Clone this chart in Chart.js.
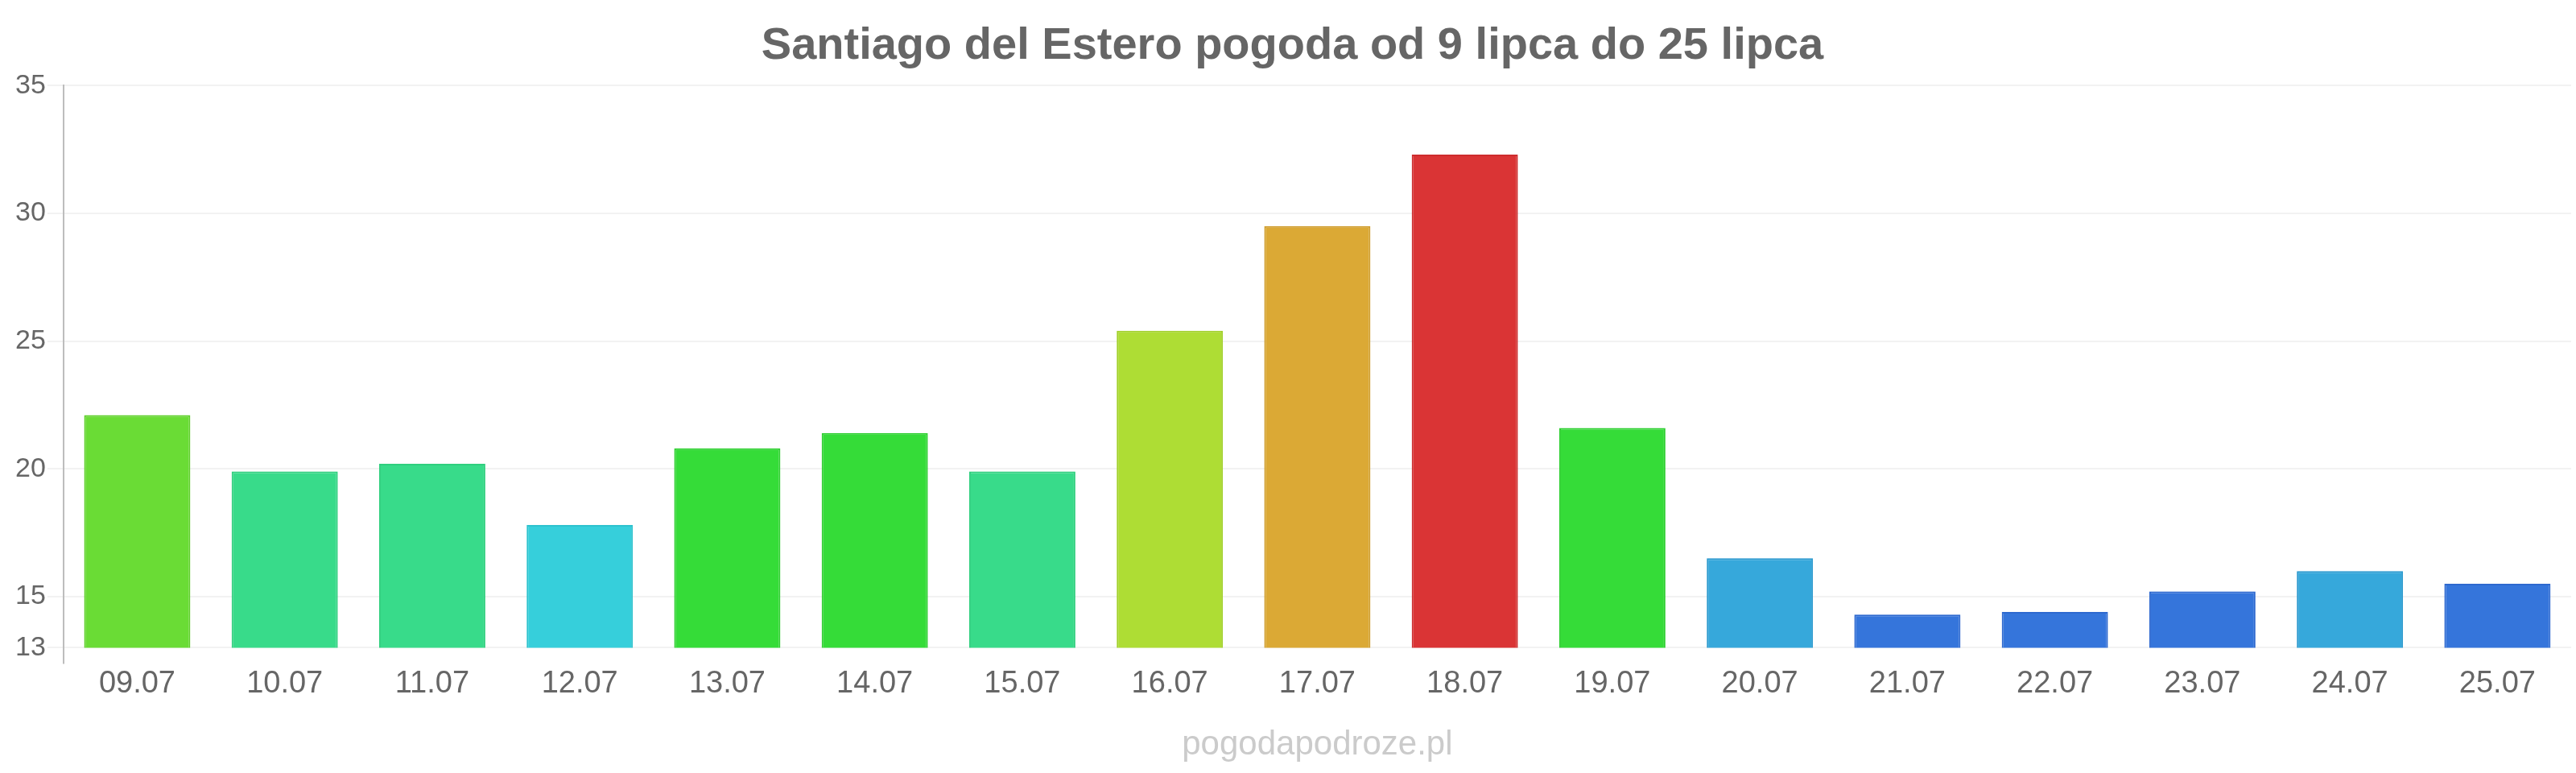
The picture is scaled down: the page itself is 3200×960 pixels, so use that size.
<!DOCTYPE html>
<html>
<head>
<meta charset="utf-8">
<script src="https://cdn.jsdelivr.net/npm/chart.js@4"></script>
<style>
    html, body { margin: 0; padding: 0; background: #fff; }
    #box { width: 3200px; height: 960px; }
</style>
</head>
<body>
<div id="box"><canvas id="wykres"></canvas></div>
<script>
const dni = ['09.07', '10.07', '11.07', '12.07', '13.07', '14.07', '15.07', '16.07', '17.07',
    '18.07', '19.07', '20.07', '21.07', '22.07', '23.07', '24.07', '25.07'];
const temperatury = [22.1, 19.9, 20.2, 17.8, 20.8, 21.4, 19.9, 25.4, 29.5,
    32.3, 21.6, 16.5, 14.3, 14.4, 15.2, 16.0, 15.5];
const kolory = ['#6adc35', '#38db8a', '#38db8a', '#36cfdb', '#35dc38', '#35dc38', '#38db8a', '#aedd34', '#dba935',
    '#da3435', '#35dc38', '#36a8db', '#3575db', '#3575db', '#3575db', '#36a8db', '#3575db'];
const ramki = ['#5ecf2a', '#2fcf7e', '#2fcf7e', '#2ec2ce', '#2ecf30', '#2ecf30', '#2fcf7e', '#a2d02b', '#cf9d2c',
    '#cd2c2d', '#2ecf30', '#2e9bcf', '#2e69cf', '#2e69cf', '#2e69cf', '#2e9bcf', '#2e69cf'];
const yTicks = [13, 15, 20, 25, 30, 35];
const znakWodny = 'pogodapodroze.pl';

const font = "'Liberation Sans', Arial, sans-serif";

// napis pod wykresem, wyśrodkowany względem obszaru słupków
const watermark = {
    id: 'watermark',
    afterDraw(chart) {
        const a = chart.chartArea;
        const c = chart.ctx;
        c.save();
        c.font = '42px ' + font;
        c.fillStyle = '#cbcbcb';
        c.textAlign = 'center';
        c.textBaseline = 'middle';
        c.fillText(znakWodny, (a.left + a.right) / 2, chart.height - 35);
        c.restore();
    }
};

const ctx = document.getElementById('wykres');

new Chart(ctx, {
    type: 'bar',
    data: {
        labels: dni,
        datasets: [{
            data: temperatury,
            backgroundColor: kolory,
            borderColor: ramki,
            borderWidth: 2,
            barPercentage: 0.72,
            categoryPercentage: 1
        }]
    },
    options: {
        responsive: true,
        maintainAspectRatio: false,
        animation: false,
        layout: {
            padding: { left: 17, right: 6, top: 0, bottom: 86 }
        },
        plugins: {
            legend: { display: false },
            tooltip: { enabled: false },
            title: {
                display: true,
                text: 'Santiago del Estero pogoda od 9 lipca do 25 lipca',
                color: '#666',
                font: { family: font, size: 56, weight: 'bold' },
                padding: { top: 24, bottom: 15 }
            }
        },
        scales: {
            x: {
                offset: true,
                grid: {
                    display: true,
                    drawOnChartArea: false,
                    tickLength: 20,
                    color: c => c.index === 0 ? '#bdbdbd' : 'transparent',
                    lineWidth: 2
                },
                border: { display: false },
                ticks: {
                    color: '#666',
                    font: { family: font, size: 38 },
                    padding: 2,
                    maxRotation: 0,
                    autoSkip: false
                }
            },
            y: {
                min: 13,
                max: 35,
                afterBuildTicks: scale => {
                    scale.ticks = yTicks.map(v => ({ value: v }));
                },
                grid: {
                    color: '#f2f2f2',
                    lineWidth: 2,
                    tickLength: 20
                },
                border: { display: true, color: '#bdbdbd', width: 2 },
                ticks: {
                    color: '#666',
                    font: { family: font, size: 34 },
                    padding: 2
                }
            }
        }
    },
    plugins: [watermark]
});
</script>
</body>
</html>
